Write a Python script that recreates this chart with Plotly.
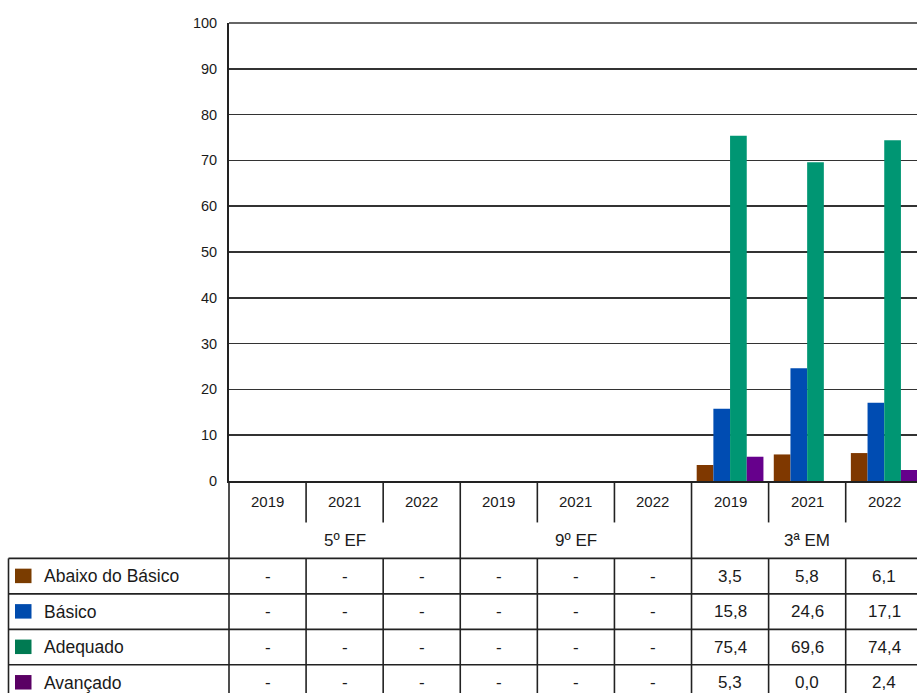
import plotly.graph_objects as go

# ---------------- data ----------------
groups = ["5º EF", "9º EF", "3ª EM"]
years = ["2019", "2021", "2022"]
series_names = ["Abaixo do Básico", "Básico", "Adequado", "Avançado"]

abaixo = [None, None, None, None, None, None, 3.5, 5.8, 6.1]
basico = [None, None, None, None, None, None, 15.8, 24.6, 17.1]
adequado = [None, None, None, None, None, None, 75.4, 69.6, 74.4]
avancado = [None, None, None, None, None, None, 5.3, 0.0, 2.4]
series_values = [abaixo, basico, adequado, avancado]

y_ticks = [0, 10, 20, 30, 40, 50, 60, 70, 80, 90, 100]

bar_colors = ["#7f3800", "#004cb2", "#009673", "#66008c"]
legend_colors = ["#7a3c00", "#004bad", "#007a52", "#5a0064"]

# ---------------- layout geometry ----------------
W, H = 917, 693
L, R, T, B = 229, 0, 23, 211.5
plot_w = W - L - R
plot_h = H - T - B
X0, X1 = -0.5, 8.425
n_cat = len(groups) * len(years)
cat_x = list(range(n_cat))

TXT = "#1a1a1a"
LINE = "#222222"
FONT = "Liberation Sans, Arial, sans-serif"


def xp(v):
    return (v - X0) / (X1 - X0)


def xpix(px):
    return (px - L) / plot_w


def yp(py):
    return (H - B - py) / plot_h


fig = go.Figure()
for name, vals, col in zip(series_names, series_values, bar_colors):
    fig.add_trace(go.Bar(
        x=cat_x, y=vals, name=name, marker=dict(color=col, line=dict(width=0)),
        showlegend=False, hoverinfo="skip",
    ))

shapes = []
annotations = []

# table geometry (pixels)
year_center = 502
year_sep_bottom = 523
group_center = 541.5
table_top = 559
row_h = 35.5
bottom_px = 720
legend_left = 8.5


def vline(xpaper, y0px, y1px):
    shapes.append(dict(type="line", xref="paper", yref="paper",
                       x0=xpaper, x1=xpaper, y0=yp(y0px), y1=yp(y1px),
                       line=dict(color=LINE, width=1.6)))


def hline(x0paper, x1paper, ypx):
    shapes.append(dict(type="line", xref="paper", yref="paper",
                       x0=x0paper, x1=x1paper, y0=yp(ypx), y1=yp(ypx),
                       line=dict(color=LINE, width=1.6)))


def label(xpaper, ypx, text, size, xanchor="center"):
    annotations.append(dict(x=xpaper, y=yp(ypx), xref="paper", yref="paper",
                            text=text, showarrow=False, xanchor=xanchor,
                            yanchor="middle",
                            font=dict(size=size, color=TXT, family=FONT)))


# group boundaries (full height)
for g in range(len(groups) + 1):
    vline(xp(g * 3 - 0.5), H - B, bottom_px)
# inner separators
for g in range(len(groups)):
    for k in (1, 2):
        xv = xp(g * 3 + k - 0.5)
        vline(xv, H - B, year_sep_bottom)
        vline(xv, table_top, bottom_px)
# horizontal row lines
for r in range(len(series_names)):
    hline(xpix(legend_left), 1.05, table_top + r * row_h)
# legend column left border
vline(xpix(legend_left), table_top, bottom_px)

# year labels and group labels
for i in range(n_cat):
    label(xp(i), year_center, years[i % 3], 15)
for g, gname in enumerate(groups):
    label(xp(g * 3 + 1), group_center, gname, 17)

# data rows
for r, (name, vals, lc) in enumerate(zip(series_names, series_values, legend_colors)):
    cy = table_top + r * row_h + row_h / 2
    shapes.append(dict(type="rect", xref="paper", yref="paper",
                       x0=xpix(15), x1=xpix(31.5), y0=yp(cy - 7.5), y1=yp(cy + 7),
                       fillcolor=lc, line=dict(width=0)))
    label(xpix(42), cy, name, 17.5, xanchor="left")
    for i, v in enumerate(vals):
        txt = "-" if v is None else f"{v:.1f}".replace(".", ",")
        label(xp(i), cy, txt, 17)

fig.update_layout(
    width=W, height=H,
    margin=dict(l=L, r=R, t=T, b=B, pad=0),
    paper_bgcolor="white", plot_bgcolor="white",
    barmode="group", bargap=0.134, bargroupgap=0,
    font=dict(family=FONT, color=TXT),
    shapes=shapes, annotations=annotations,
    xaxis=dict(range=[X0, X1], showticklabels=False, showgrid=False, zeroline=False,
               showline=True, linecolor=LINE, linewidth=2, ticks=""),
    yaxis=dict(range=[0, 100], tickvals=y_ticks, showgrid=True, gridcolor="#333333",
               gridwidth=1.5, zeroline=False, showline=True, linecolor=LINE,
               linewidth=2, ticks="", ticklabelstandoff=7,
               tickfont=dict(size=14.5, color=TXT, family=FONT)),
)
fig.add_shape(type="line", xref="paper", yref="paper", x0=0, x1=1, y0=1, y1=1,
              line=dict(color="#333333", width=1.5))

fig.write_html(
    "out.html",
    config={"displayModeBar": False, "staticPlot": True},
    post_script="document.body.style.margin='0';document.body.style.overflow='hidden';"
                "document.documentElement.style.overflow='hidden';",
)
